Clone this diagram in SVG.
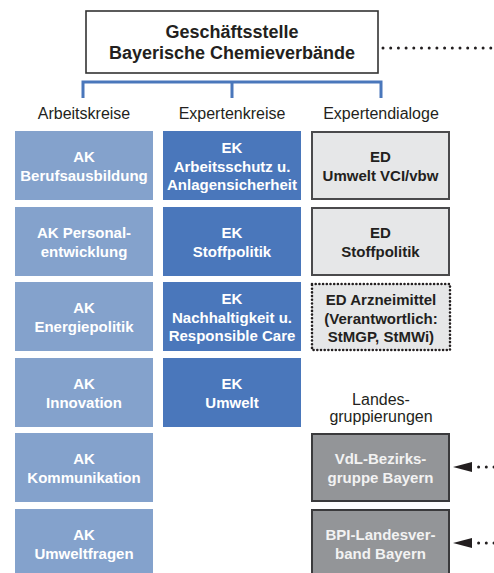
<svg xmlns="http://www.w3.org/2000/svg" width="494" height="573" viewBox="0 0 494 573">
<style>
text{font-family:"Liberation Sans",Arial,sans-serif;text-anchor:middle}
.t{font-size:15px;font-weight:bold}
.w{fill:#ffffff}
.d{fill:#231f20}
.g{fill:#f2f2f2}
.lab{font-size:16px;fill:#231f20}
.ak{fill:#84a2cc}
.ek{fill:#4a77bb}
.ed{fill:#e6e7e8;stroke:#4a4a4c;stroke-width:2}
.edd{fill:#e6e7e8;stroke:#231f20;stroke-width:2.6;stroke-dasharray:0 3.7;stroke-linecap:round}
.lg{fill:#939598;stroke:#3a3a3c;stroke-width:2}
.dot{stroke:#231f20;stroke-width:3;stroke-linecap:round;stroke-dasharray:0 7.7;fill:none}
.br{stroke:#4a77bb;stroke-width:3;fill:none}
</style>
<defs>
<marker id="ah" markerUnits="userSpaceOnUse" markerWidth="20" markerHeight="12" refX="0" refY="6" orient="auto" viewBox="0 0 20 12">
<path d="M0,1 L19,6 L0,11 z" fill="#231f20"/>
</marker>
</defs>

<g id="top">
<rect x="86" y="11" width="292" height="62" fill="#ffffff" stroke="#333333" stroke-width="1.6"/>
<text x="232" y="38" class="d" style="font-size:18px;font-weight:bold">Geschäftsstelle</text>
<text x="232" y="59" class="d" style="font-size:18px;font-weight:bold">Bayerische Chemieverbände</text>
</g>

<g id="connectors">
<path class="br" d="M83,98 V82 H381 V98 M232,82 V98"/>
<line class="dot" x1="383" y1="48" x2="494" y2="48"/>
<line class="dot" x1="494" y1="467" x2="472" y2="467" marker-end="url(#ah)"/>
<line class="dot" x1="494" y1="543" x2="472" y2="543" marker-end="url(#ah)"/>
</g>

<g id="labels">
<text x="84" y="119" class="lab">Arbeitskreise</text>
<text x="232" y="119" class="lab">Expertenkreise</text>
<text x="381" y="119" class="lab">Expertendialoge</text>
<text x="381" y="405" class="lab">Landes-</text>
<text x="381" y="422" class="lab">gruppierungen</text>
</g>

<g id="ak1"><rect class="ak" x="15" y="131" width="138" height="69"/>
<text class="t w" x="84" y="162">AK</text><text class="t w" x="84" y="180.5">Berufsausbildung</text></g>
<g id="ak2"><rect class="ak" x="15" y="207" width="138" height="69"/>
<text class="t w" x="84" y="238">AK Personal-</text><text class="t w" x="84" y="256.5">entwicklung</text></g>
<g id="ak3"><rect class="ak" x="15" y="282" width="138" height="69"/>
<text class="t w" x="84" y="313">AK</text><text class="t w" x="84" y="331.5">Energiepolitik</text></g>
<g id="ak4"><rect class="ak" x="15" y="358" width="138" height="69"/>
<text class="t w" x="84" y="389">AK</text><text class="t w" x="84" y="407.5">Innovation</text></g>
<g id="ak5"><rect class="ak" x="15" y="433" width="138" height="69"/>
<text class="t w" x="84" y="464">AK</text><text class="t w" x="84" y="482.5">Kommunikation</text></g>
<g id="ak6"><rect class="ak" x="15" y="509" width="138" height="69"/>
<text class="t w" x="84" y="540">AK</text><text class="t w" x="84" y="558.5">Umweltfragen</text></g>

<g id="ek1"><rect class="ek" x="163" y="131" width="138" height="69"/>
<text class="t w" x="232" y="152.5">EK</text><text class="t w" x="232" y="171.5">Arbeitsschutz u.</text><text class="t w" x="232" y="189.5">Anlagensicherheit</text></g>
<g id="ek2"><rect class="ek" x="163" y="207" width="138" height="69"/>
<text class="t w" x="232" y="238">EK</text><text class="t w" x="232" y="256.5">Stoffpolitik</text></g>
<g id="ek3"><rect class="ek" x="163" y="282" width="138" height="69"/>
<text class="t w" x="232" y="303.5">EK</text><text class="t w" x="232" y="322.5">Nachhaltigkeit u.</text><text class="t w" x="232" y="340.5">Responsible Care</text></g>
<g id="ek4"><rect class="ek" x="163" y="358" width="138" height="69"/>
<text class="t w" x="232" y="389">EK</text><text class="t w" x="232" y="407.5">Umwelt</text></g>

<g id="ed1"><rect class="ed" x="312" y="132" width="137" height="67"/>
<text class="t d" x="380.5" y="162">ED</text><text class="t d" x="380.5" y="180.5">Umwelt VCI/vbw</text></g>
<g id="ed2"><rect class="ed" x="312" y="208" width="137" height="67"/>
<text class="t d" x="380.5" y="238">ED</text><text class="t d" x="380.5" y="256.5">Stoffpolitik</text></g>
<g id="ed3"><rect class="edd" x="312" y="284" width="138" height="66"/>
<text class="t d" x="381" y="304.5">ED Arzneimittel</text><text class="t d" x="381" y="323.5">(Verantwortlich:</text><text class="t d" x="381" y="341.5">StMGP, StMWi)</text></g>

<g id="lg1"><rect class="lg" x="312" y="434" width="137" height="67"/>
<text class="t g" x="380.5" y="464">VdL-Bezirks-</text><text class="t g" x="380.5" y="482.5">gruppe Bayern</text></g>
<g id="lg2"><rect class="lg" x="312" y="510" width="137" height="70"/>
<text class="t g" x="380.5" y="540">BPI-Landesver-</text><text class="t g" x="380.5" y="558.5">band Bayern</text></g>
</svg>
